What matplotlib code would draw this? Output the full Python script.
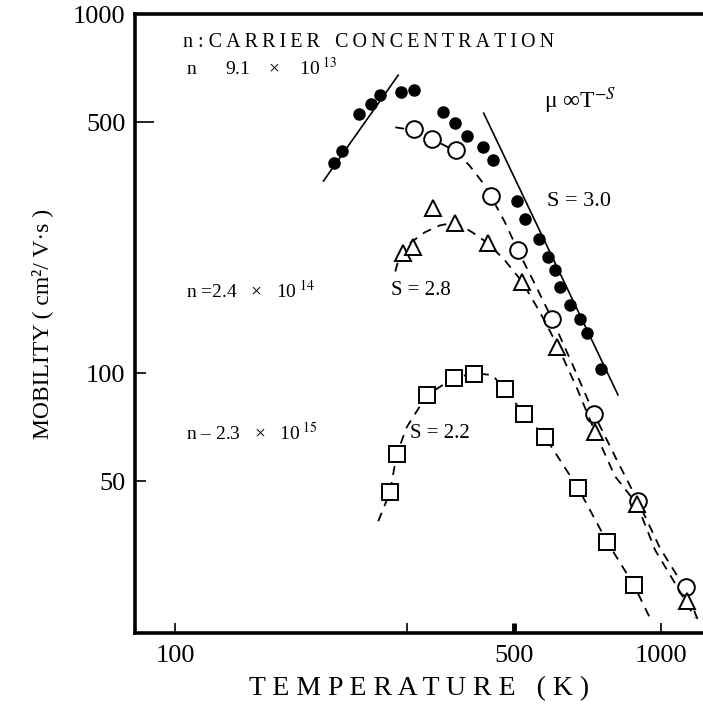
import numpy as np
import matplotlib
matplotlib.use("Agg")
import matplotlib.pyplot as plt

plt.rcParams['font.family'] = ['Liberation Serif', 'DejaVu Serif']
plt.rcParams['mathtext.fontset'] = 'stix'

# n = 9.1e13 (filled circles)
T_fill = [212, 221, 239, 253, 264, 292, 310, 356, 377, 399, 431, 452, 506, 525,
          562, 586, 606, 620, 650, 682, 705, 754]
mu_fill = [385, 415, 527, 562, 595, 606, 614, 533, 497, 457, 426, 392, 302, 269,
           236, 210, 194, 174, 155, 142, 129, 103]
# low-T fit and S = 3.0 line
T_rise = [202, 288]
mu_rise = [343, 676]
T_s30 = [432, 817]
mu_s30 = [530, 87]

# open circles
T_circ = [310, 338, 379, 447, 508, 597, 729, 898, 1128]
mu_circ = [478, 449, 418, 311, 220, 142, 77, 44, 25.4]
T_circ_fit = [284, 310, 338, 379, 405, 429, 447, 478, 508, 551, 597, 660, 729, 809, 898, 997, 1128, 1205]
mu_circ_fit = [484, 475, 449, 415, 377, 341, 311, 263, 220, 177, 142, 105, 77, 58, 44, 32.6, 24.9, 19.9]

# n = 2.4e14 (triangles)
T_tri = [295, 309, 340, 377, 441, 518, 612, 733, 894, 1133]
mu_tri = [216, 224, 288, 262, 230, 180, 118, 68.5, 43.2, 23.2]
T_tri_fit = [284, 290, 304, 327, 351, 377, 409, 441, 478, 518, 564, 612, 672, 733, 805, 894, 974, 1071, 1178]
mu_tri_fit = [192, 212, 230, 247, 258, 263, 247, 230, 206, 180, 148, 120, 91, 68.5, 51.7, 43.2, 32.2, 26.0, 20.8]

# n = 2.3e15 (squares)
T_sq = [277, 286, 330, 375, 413, 478, 523, 578, 676, 776, 881]
mu_sq = [46.7, 59.5, 86.9, 96.9, 99.4, 90.3, 76.9, 66.4, 47.9, 33.9, 25.7]
T_sq_fit = [262, 277, 286, 300, 330, 375, 413, 450, 478, 523, 578, 676, 776, 881, 951]
mu_sq_fit = [38.7, 46.7, 59.5, 70.8, 86.9, 96.9, 100, 98.8, 90.3, 76.9, 66.4, 47.9, 33.9, 25.7, 20.8]

def spaced(s, sep='\u2009'):
    return sep.join(s)

fig = plt.figure(figsize=(7.03, 7.08), dpi=100)
ax = fig.add_axes([0.192, 0.106, 0.808, 0.874])
ax.set_xscale('log')
ax.set_yscale('log')
ax.set_xlim(82.6, 1223)
ax.set_ylim(18.9, 1000)

k = 'black'
ax.plot(T_rise, mu_rise, '-', color=k, lw=1.2)
ax.plot(T_s30, mu_s30, '-', color=k, lw=1.2)
ax.plot(T_fill, mu_fill, 'o', color=k, ms=8, ls='none')

ax.plot(T_circ_fit, mu_circ_fit, color=k, lw=1.3, ls=(0, (5, 4)))
ax.plot(T_circ, mu_circ, 'o', mfc='white', mec=k, mew=1.4, ms=12, ls='none')

ax.plot(T_tri_fit, mu_tri_fit, color=k, lw=1.3, ls=(0, (5, 4)))
ax.plot(T_tri, mu_tri, '^', mfc='white', mec=k, mew=1.4, ms=12, ls='none')

ax.plot(T_sq_fit, mu_sq_fit, color=k, lw=1.3, ls=(0, (5, 4)))
ax.plot(T_sq, mu_sq, 's', mfc='white', mec=k, mew=1.4, ms=11, ls='none')

# axes styling
for s in ['left', 'bottom', 'top']:
    ax.spines[s].set_linewidth(2.6)
ax.spines['right'].set_visible(False)
ax.set_xticks([100, 300, 500, 1000])
ax.set_xticklabels(['100', '', '500', '1000'])
ax.set_yticks([50, 100, 500, 1000])
ax.set_yticklabels(['50', '100', '500', '1000'])
ax.xaxis.set_minor_locator(matplotlib.ticker.NullLocator())
ax.yaxis.set_minor_locator(matplotlib.ticker.NullLocator())
ax.tick_params(axis='x', direction='in', length=7, width=1.2, labelsize=19, pad=9)
ax.tick_params(axis='y', direction='in', length=8, width=1.2, labelsize=19, pad=7)
ax.tick_params(top=False, right=False)
# longer tick at 500 on y, heavier one at 500 on x
ax.yaxis.get_major_ticks()[2].tick1line.set_markersize(14)
ax.xaxis.get_major_ticks()[2].tick1line.set_markeredgewidth(3.5)

ax.set_xlabel(spaced('TEMPERATURE', ' ') + '   ( K )', fontsize=20, labelpad=6)
ax.set_ylabel('MOBILITY ( cm²/ V·s )', fontsize=17, labelpad=14)

tf = ax.transAxes
ax.text(0.085, 0.955, 'n : ' + spaced('CARRIER') + '   ' + spaced('CONCENTRATION'),
        transform=tf, fontsize=14.5, va='center')
ax.text(0.09, 0.913, 'n      9.1    ×    10$^{\\ 13}$', transform=tf, fontsize=14, va='center')
ax.text(0.72, 0.860, 'μ ∞T$^{-S}$', transform=tf, fontsize=17, va='center')
ax.text(0.725, 0.698, 'S = 3.0', transform=tf, fontsize=16, va='center')
ax.text(0.09, 0.553, 'n =2.4   ×   10$^{\\ 14}$', transform=tf, fontsize=14, va='center')
ax.text(0.45, 0.553, 'S = 2.8', transform=tf, fontsize=15, va='center')
ax.text(0.09, 0.323, 'n – 2.3   ×   10$^{\\ 15}$', transform=tf, fontsize=14, va='center')
ax.text(0.485, 0.323, 'S = 2.2', transform=tf, fontsize=15, va='center')

fig.savefig('out.png', dpi=100)
